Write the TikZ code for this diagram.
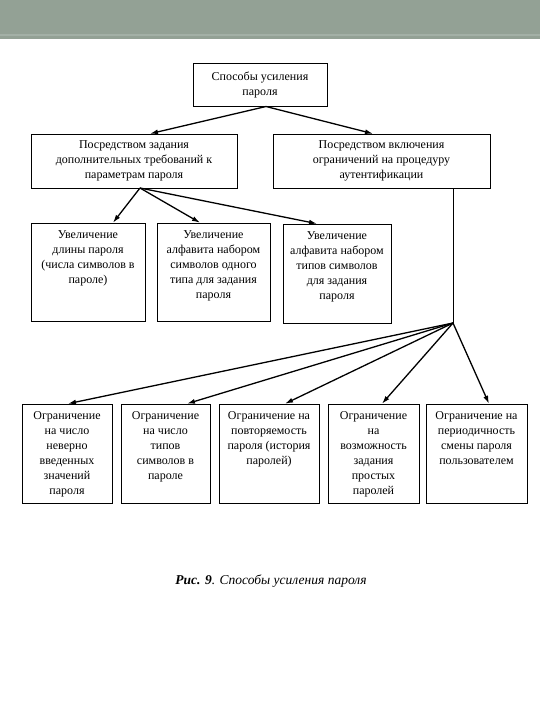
\documentclass[tikz,border=0pt]{standalone}
\usepackage{fontspec}
\setmainfont{Liberation Serif}
\usetikzlibrary{arrows.meta}

\definecolor{bandgray}{RGB}{147,161,149}
\definecolor{bandline}{RGB}{163,176,166}

% text at the top of a box of given width and height
\newcommand{\toptext}[3]{\parbox[c][#2][t]{#1}{\centering\vspace*{5pt}\strut #3}}

\begin{document}
\begin{tikzpicture}[x=1pt,y=-1pt,
    box/.style={draw,line width=0.6pt,inner sep=0pt,align=center,
      font=\fontsize{12}{15}\selectfont},
    arr/.style={-{Latex[length=8pt,width=5pt]},line width=1.3pt}]
  \useasboundingbox (0,0) rectangle (540,720);
  \fill[white] (0,0) rectangle (540,720);
  \fill[bandgray] (0,0) rectangle (540,39);
  \fill[bandline] (0,33.5) rectangle (540,35.5);

  % levels 1 and 2
  \node[box,minimum width=134pt,minimum height=43pt] (root) at (260,84.5)
    {Способы усиления\\пароля};
  \node[box,minimum width=206pt,minimum height=54pt] (bytask) at (134,161)
    {Посредством задания\\дополнительных требований к\\параметрам пароля};
  \node[box,minimum width=217pt,minimum height=54pt] (bylimit) at (381.5,161)
    {Посредством включения\\ограничений на процедуру\\аутентификации};

  % level 3
  \node[box] (len) at (88,272)
    {\toptext{114pt}{98pt}{Увеличение\\длины пароля\\(числа символов в\\пароле)}};
  \node[box] (alpha) at (213.5,272)
    {\toptext{113pt}{98pt}{Увеличение\\алфавита набором\\символов одного\\типа для задания\\пароля}};
  \node[box] (types) at (337,273.5)
    {\toptext{108pt}{99pt}{Увеличение\\алфавита набором\\типов символов\\для задания\\пароля}};

  % level 4
  \node[box] (wrong) at (67,453.5)
    {\toptext{90pt}{99pt}{Ограничение\\на число\\неверно\\введенных\\значений\\пароля}};
  \node[box] (kinds) at (165.5,453.5)
    {\toptext{89pt}{99pt}{Ограничение\\на число\\типов\\символов в\\пароле}};
  \node[box] (repeat) at (269,453.5)
    {\toptext{100pt}{99pt}{Ограничение на\\повторяемость\\пароля (история\\паролей)}};
  \node[box] (simple) at (373.5,453.5)
    {\toptext{91pt}{99pt}{Ограничение\\на\\возможность\\задания\\простых\\паролей}};
  \node[box] (period) at (476.5,453.5)
    {\toptext{101pt}{99pt}{Ограничение на\\периодичность\\смены пароля\\пользователем}};

  \node[font=\fontsize{13.5}{16}\selectfont\itshape] (caption) at (271,581)
    {\textbf{Рис. 9}. Способы усиления пароля};

  % connectors
  \coordinate (rootfork) at (266,106.5);
  \coordinate (taskfork) at (140,188);
  \coordinate (limitfork) at (453,323);
  \draw[arr] (rootfork) -- ([xshift=16pt]bytask.north);
  \draw[arr] (rootfork) -- ([xshift=-8.5pt]bylimit.north);
  \draw[arr] (taskfork) -- ([xshift=25pt]len.north);
  \draw[arr] (taskfork) -- ([xshift=-13.5pt]alpha.north);
  \draw[arr] (taskfork) -- ([xshift=-20pt]types.north);
  \draw[line width=0.9pt] (bylimit.south -| limitfork) -- (limitfork);
  \draw[arr] (limitfork) -- ([xshift=1pt]wrong.north);
  \draw[arr] (limitfork) -- ([xshift=21.5pt]kinds.north);
  \draw[arr] (limitfork) -- ([xshift=16pt]repeat.north);
  \draw[arr] (limitfork) -- ([xshift=8.5pt]simple.north);
  \draw[arr] (limitfork) -- ([xshift=12.5pt]period.north);
\end{tikzpicture}
\end{document}
